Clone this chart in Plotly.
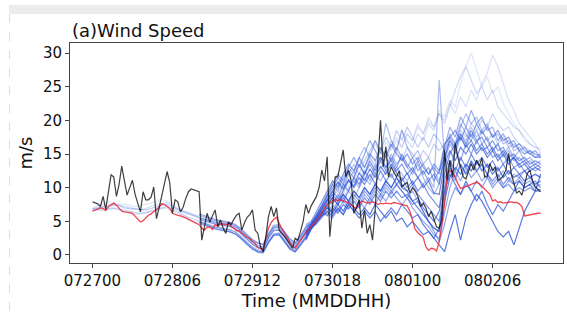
import plotly.graph_objects as go

# ---------------- data ----------------
hours = list(range(169))
tick_hours = [0, 30, 60, 90, 120, 150]
tick_labels = ["072700", "072806", "072912", "073018", "080100", "080206"]
y_ticks = [0, 5, 10, 15, 20, 25, 30]

obs = [7.9, 7.7, 7.6, 7.2, 8.7, 6.8, 9.5, 11.9, 11.6, 8.7, 10.5, 13.2, 11.0, 8.9, 10.0, 11.1, 9.0, 7.5, 6.4, 9.4,
       8.2, 8.2, 8.6, 10.1, 5.4, 7.0, 8.7, 10.5, 12.4, 10.7, 6.2, 8.2, 7.9, 6.4, 7.1, 8.4, 9.4, 9.8, 9.7, 9.5,
       9.4, 2.2, 4.0, 6.2, 4.9, 5.8, 6.7, 4.2, 5.2, 4.0, 3.2, 4.9, 4.5, 5.3, 5.9, 6.2, 3.7, 4.8, 5.6, 6.0,
       6.7, 3.7, 3.2, 1.2, 0.5, 2.7, 5.7, 7.2, 5.7, 7.0, 3.7, 3.2, 2.8, 2.2, 1.6, 1.0, 2.5, 2.2, 3.5, 5.0,
       7.5, 6.2, 7.3, 8.0, 8.7, 10.1, 12.6, 11.0, 14.6, 2.7, 7.7, 11.6, 11.6, 13.5, 15.6, 11.6, 12.6, 11.0, 6.2, 7.0,
       8.2, 4.0, 6.7, 3.2, 4.5, 2.2, 6.7, 14.1, 20.0, 13.1, 16.1, 11.6, 13.1, 12.3, 11.6, 12.5, 10.1, 10.5, 10.8, 9.2,
       10.0, 9.5, 8.7, 7.2, 7.7, 7.0, 5.7, 6.5, 5.5, 4.2, 4.0, 5.2, 15.6, 11.1, 14.1, 11.6, 16.6, 14.5, 13.1, 11.6,
       11.3, 12.5, 13.6, 12.6, 14.1, 13.2, 14.4, 11.6, 11.6, 13.6, 12.5, 13.1, 11.1, 11.3, 11.8, 12.6, 15.1, 12.1, 10.5, 9.2,
       9.5, 8.9, 10.5, 12.1, 12.6, 11.0, 10.1, 9.8, 9.4]

model = [6.5, 6.7, 6.9, 7.0, 6.9, 6.6, 7.2, 7.5, 7.7, 7.4, 7.0, 6.5, 6.4, 6.4, 6.3, 6.2, 5.8, 5.4, 4.9, 5.1,
         5.5, 5.9, 6.1, 6.4, 6.7, 7.1, 7.6, 7.5, 7.2, 6.9, 6.2, 6.0, 5.9, 5.8, 5.7, 5.5, 5.3, 5.1, 4.9, 4.6,
         4.5, 4.0, 3.7, 4.1, 4.2, 3.8, 4.5, 4.3, 4.6, 4.6, 4.5, 4.7, 4.2, 4.0, 3.6, 3.6, 3.2, 2.9, 2.6, 2.4,
         2.0, 1.7, 1.1, 0.9, 0.8, 2.5, 4.0, 4.8, 5.3, 5.6, 4.7, 3.9, 3.3, 2.6, 1.9, 1.3, 1.0, 1.6, 2.3, 2.9,
         3.3, 3.8, 4.2, 4.6, 5.1, 5.6, 6.4, 7.0, 7.5, 7.8, 8.0, 8.2, 8.1, 8.2, 8.0, 7.9, 7.8, 7.4, 7.1, 6.9,
         7.6, 8.0, 7.8, 7.7, 7.8, 7.9, 7.8, 7.5, 7.7, 7.6, 7.7, 7.7, 7.6, 7.8, 7.7, 7.6, 7.4, 7.3, 7.3, 6.5,
         5.2, 3.8, 3.3, 3.0, 2.6, 1.2, 0.7, 1.0, 0.9, 0.6, 2.0, 4.5, 7.5, 12.2, 12.5, 12.4, 11.4, 10.6, 9.9, 10.0,
         10.2, 10.3, 10.5, 10.6, 10.8, 10.6, 10.2, 9.8, 9.5, 9.0, 8.0, 8.2, 7.8, 7.9, 7.7, 7.8, 7.8, 7.9, 7.8, 7.8,
         7.6, 7.2, 5.8, 5.9, 5.9, 6.0, 6.1, 6.2, 6.2]

# ensemble members on a 2-hourly grid; each group starts at its own hour
ens_step = 2

# group A: start at hour 0 (faint members)
start_a = 0
a1 = [7.0, 7.3, 7.6, 7.9, 7.7, 7.5, 7.6, 7.4, 7.2, 7.3, 7.5, 7.8, 8.0, 8.2, 8.0, 7.6, 7.0, 6.6, 6.4, 6.0,
      5.8, 5.5, 5.3, 5.2, 5.0, 4.8, 4.6, 4.3, 3.6, 2.8, 2.2, 1.8, 1.5, 2.8, 3.9, 4.4, 3.5, 2.5, 1.9, 2.8, 4.2,
      4.8, 6.2, 7.8, 9.5, 11.0, 10.2, 12.0, 13.5, 12.5, 14.0, 13.0, 15.0, 16.5, 15.0, 16.8, 15.5, 17.0, 16.0, 18.0, 17.0,
      19.0, 18.0, 20.0, 19.0, 21.5, 20.5, 23.0, 22.0, 25.5, 28.0, 30.0, 27.5, 25.0, 26.5, 24.0, 25.0, 22.5, 21.0, 19.5, 18.5,
      17.0, 16.5, 16.0, 15.5]
a2 = [6.6, 6.7, 6.6, 6.8, 6.9, 6.7, 6.4, 6.2, 6.0, 6.1, 6.3, 6.4, 6.6, 6.9, 7.0, 6.6, 6.1, 5.7, 5.4, 5.0,
      4.8, 4.6, 4.2, 3.9, 3.8, 3.7, 3.4, 3.0, 2.3, 1.6, 0.9, 0.5, 0.4, 1.8, 2.9, 3.1, 1.9, 0.9, 0.5, 1.4, 2.5,
      4.5, 5.2, 6.4, 7.8, 9.2, 10.0, 9.0, 11.0, 12.5, 11.0, 13.0, 14.5, 13.0, 15.5, 14.0, 16.0, 17.5, 16.0, 18.0, 17.0,
      19.5, 18.0, 20.5, 19.0, 21.0, 20.0, 22.5, 21.0, 23.5, 22.0, 24.5, 23.0, 25.5, 27.0, 29.7, 28.0, 25.5, 23.0, 21.5, 19.5,
      18.5, 17.5, 16.5, 15.0]
a3 = [6.9, 7.0, 7.3, 7.4, 7.6, 7.4, 7.2, 7.1, 6.9, 6.7, 6.9, 7.2, 7.5, 7.6, 7.8, 7.3, 6.8, 6.5, 6.2, 5.9,
      5.5, 5.2, 5.0, 4.9, 4.8, 4.6, 4.5, 4.1, 3.4, 2.6, 1.9, 1.3, 1.2, 3.0, 4.2, 4.0, 3.0, 2.0, 1.5, 2.5, 3.8,
      4.6, 6.0, 7.2, 9.0, 8.0, 10.5, 9.5, 12.0, 11.0, 13.5, 12.0, 14.5, 13.5, 16.0, 14.5, 17.0, 15.5, 18.5, 17.0, 16.0,
      18.0, 17.0, 19.5, 18.5, 21.0, 19.5, 22.0, 24.5, 26.5, 28.0, 26.0, 24.0, 25.0, 23.0, 24.5, 22.0, 21.0, 20.0, 19.0, 18.5,
      17.5, 16.5, 16.0, 15.8]
a4 = [6.7, 6.8, 6.9, 6.9, 7.0, 6.8, 6.7, 6.5, 6.3, 6.2, 6.3, 6.6, 6.8, 7.0, 7.2, 6.9, 6.4, 6.0, 5.6, 5.3,
      5.0, 4.7, 4.4, 4.2, 4.1, 3.9, 3.7, 3.3, 2.6, 1.8, 1.2, 0.8, 0.6, 2.0, 3.1, 3.3, 2.3, 1.2, 0.8, 1.7, 2.8,
      4.4, 5.0, 6.2, 7.4, 8.8, 9.5, 8.5, 10.0, 11.5, 10.5, 12.5, 11.5, 13.5, 12.5, 14.5, 13.0, 15.5, 14.0, 16.0, 15.0,
      14.0, 15.5, 14.5, 16.5, 15.5, 16.5, 17.5, 16.5, 18.5, 17.5, 19.5, 18.5, 20.0, 19.0, 21.0, 19.5, 18.5, 19.0, 17.5, 16.5,
      16.0, 15.5, 15.0, 14.8]
a5 = [6.8, 7.0, 7.1, 7.2, 7.4, 7.3, 7.0, 6.9, 6.8, 6.7, 6.7, 6.9, 7.2, 7.4, 7.5, 7.2, 6.8, 6.4, 6.1, 5.8,
      5.5, 5.3, 4.9, 4.7, 4.6, 4.4, 4.2, 3.8, 3.1, 2.4, 1.6, 1.2, 1.0, 2.6, 3.7, 3.8, 2.8, 1.8, 1.2, 2.2, 3.5,
      4.2, 5.4, 6.5, 7.8, 9.0, 11.0, 10.0, 12.0, 13.5, 12.0, 14.0, 15.5, 17.0, 15.5, 17.5, 16.0, 18.5, 17.0, 19.0, 17.5,
      16.0, 17.5, 16.0, 18.0, 17.0, 15.5, 17.0, 16.0, 18.0, 17.0, 19.0, 17.5, 18.5, 17.0, 18.0, 16.5, 17.5, 16.0, 16.5, 15.5,
      15.0, 15.5, 15.0, 14.5]

# group B: start at hour 40
start_b = 40
b1 = [5.9, 5.6, 5.3, 5.1, 5.0, 4.9, 4.7, 4.3, 3.6, 2.9, 2.2, 1.7, 1.5, 3.1, 4.2, 4.3, 3.4, 2.3, 1.7, 2.7, 4.0,
      4.6, 5.8, 7.2, 8.8, 10.5, 9.5, 11.5, 13.0, 12.0, 14.5, 16.0, 14.5, 17.0, 15.0, 19.6, 17.0, 15.5, 18.6, 16.0, 14.5,
      15.5, 13.5, 14.5, 12.5, 11.0, 14.0, 17.5, 16.0, 19.0, 21.0, 19.5, 20.5, 18.5, 19.5, 17.5, 18.0, 16.5, 17.0, 15.5, 16.0,
      15.0, 15.5, 14.5, 15.0]
b2 = [4.9, 4.5, 4.2, 3.9, 3.8, 3.6, 3.4, 3.0, 2.3, 1.5, 0.9, 0.5, 0.4, 1.9, 3.0, 3.0, 2.0, 0.9, 0.5, 1.5, 2.6,
      4.2, 4.8, 5.8, 7.0, 8.0, 8.5, 7.8, 9.5, 8.5, 10.0, 11.5, 10.5, 12.0, 11.0, 12.5, 11.5, 13.0, 12.0, 11.0, 12.5,
      11.5, 10.5, 11.5, 10.0, 26.0, 14.0, 16.5, 15.0, 17.5, 16.0, 18.0, 16.5, 18.5, 17.0, 15.5, 16.5, 15.0, 16.0, 14.5, 15.5,
      14.0, 14.5, 13.5, 14.0]
b3 = [5.5, 5.3, 5.0, 4.9, 4.7, 4.6, 4.4, 4.1, 3.4, 2.6, 1.9, 1.4, 1.2, 2.8, 4.0, 4.1, 3.1, 2.0, 1.4, 2.4, 3.7,
      4.5, 5.6, 7.0, 8.2, 7.5, 9.0, 8.0, 9.5, 11.0, 10.0, 12.5, 11.0, 13.0, 14.5, 13.0, 15.0, 13.5, 14.5, 13.0, 12.0,
      13.5, 11.5, 10.0, 9.0, 10.5, 15.5, 18.0, 16.5, 19.5, 18.0, 17.0, 18.5, 16.5, 17.5, 15.5, 16.5, 14.5, 15.5, 14.0, 14.5,
      13.5, 14.0, 13.0, 13.5]
b4 = [5.0, 4.7, 4.3, 4.1, 4.0, 3.9, 3.7, 3.3, 2.6, 1.8, 1.1, 0.6, 0.5, 2.0, 3.1, 3.2, 2.2, 1.1, 0.6, 1.6, 2.8,
      4.0, 4.6, 5.5, 6.5, 7.4, 6.5, 8.0, 7.0, 8.5, 7.5, 9.0, 8.0, 9.5, 8.5, 10.0, 9.0, 10.5, 9.5, 8.5, 9.5,
      8.0, 6.5, 5.0, 4.0, 3.5, 9.0, 12.5, 11.0, 13.5, 12.0, 14.0, 12.5, 13.5, 12.0, 13.0, 11.5, 12.5, 11.0, 12.0, 11.5,
      12.5, 11.5, 12.0, 11.5]
b5 = [6.1, 5.8, 5.5, 5.3, 5.1, 5.0, 4.8, 4.4, 3.8, 3.0, 2.3, 1.8, 1.6, 3.2, 4.4, 4.5, 3.5, 2.4, 1.8, 2.9, 4.2,
      4.8, 6.0, 7.5, 9.0, 10.5, 12.0, 11.0, 13.0, 14.5, 13.0, 15.0, 17.0, 15.5, 14.0, 15.5, 14.0, 16.0, 14.5, 13.0, 14.5,
      12.5, 13.5, 12.0, 13.0, 12.0, 16.0, 19.0, 17.5, 20.5, 19.0, 21.5, 19.5, 20.5, 18.5, 19.0, 17.0, 18.0, 16.5, 17.0, 15.5,
      16.0, 15.0, 15.5, 14.5]
b6 = [4.7, 4.4, 4.1, 3.9, 3.7, 3.6, 3.4, 3.0, 2.4, 1.6, 0.9, 0.4, 0.3, 1.8, 2.9, 3.0, 2.0, 0.9, 0.4, 1.4, 2.5,
      4.0, 4.8, 5.8, 6.2, 5.5, 6.8, 6.0, 7.5, 6.5, 8.0, 7.0, 8.5, 7.5, 9.0, 8.0, 9.5, 8.5, 7.5, 8.5, 7.0,
      6.0, 5.0, 4.2, 3.0, 2.5, 6.0, 10.0, 12.5, 11.0, 13.0, 11.5, 12.5, 11.0, 12.0, 10.5, 11.5, 10.0, 11.0, 10.5, 11.5,
      10.5, 11.0, 10.0, 10.5]
b7 = [5.3, 5.0, 4.8, 4.6, 4.5, 4.4, 4.2, 3.8, 3.1, 2.3, 1.6, 1.1, 0.9, 2.5, 3.6, 3.7, 2.7, 1.6, 1.1, 2.1, 3.3,
      4.3, 5.5, 6.8, 8.0, 9.5, 8.5, 10.5, 9.5, 11.5, 10.5, 12.0, 13.5, 12.0, 14.0, 12.5, 14.5, 13.0, 15.0, 13.5, 12.5,
      14.0, 12.0, 13.0, 11.0, 12.5, 14.5, 13.0, 15.5, 14.0, 16.5, 15.0, 17.0, 15.5, 16.0, 14.5, 15.0, 13.5, 14.5, 13.0, 13.5,
      12.5, 13.0, 12.5, 13.0]

# group C: start at hour 80
start_c = 80
c1 = [2.4, 4.0, 5.0, 6.0, 7.0, 6.2, 7.5, 6.5, 8.0, 7.0, 6.0, 7.0, 6.0, 7.5, 6.5, 5.5, 6.5, 5.0, 5.5, 4.2,
      5.0, 4.0, 3.0, 3.5, 2.5, 1.5, 0.5, 3.5, 6.0, 2.2, 5.5, 7.5, 9.0, 8.0, 6.5, 5.0, 3.5, 2.7, 3.5, 1.5,
      4.0, 6.5, 8.0, 9.5, 12.0]
c2 = [3.4, 4.2, 5.2, 6.3, 7.5, 8.5, 7.5, 9.0, 8.0, 9.5, 8.5, 10.0, 9.0, 10.5, 9.5, 11.0, 10.0, 11.5, 10.0, 9.5,
      8.0, 7.0, 6.0, 5.0, 4.0, 3.5, 8.0, 11.5, 13.0, 12.0, 13.5, 12.5, 14.0, 12.5, 13.5, 12.0, 13.0, 11.5, 12.5, 11.5,
      12.0, 11.0, 11.5, 10.5, 11.0]
c3 = [2.2, 3.8, 4.8, 5.8, 6.5, 5.8, 7.0, 6.0, 7.5, 6.5, 5.5, 6.5, 5.5, 6.5, 5.0, 6.0, 7.0, 6.0, 7.5, 6.5,
      5.5, 6.0, 4.5, 3.5, 2.5, 4.0, 9.5, 12.0, 10.5, 9.0, 11.0, 9.5, 8.0, 9.5, 7.5, 6.0, 7.5, 6.5, 8.0, 9.5,
      11.0, 10.0, 10.5, 9.5, 9.8]
c4 = [3.6, 4.5, 5.6, 6.8, 8.2, 9.5, 10.8, 9.8, 11.2, 10.2, 12.2, 11.0, 12.8, 11.5, 13.2, 12.0, 13.5, 12.2, 11.0, 12.2,
      10.5, 11.5, 10.0, 11.0, 9.2, 9.0, 13.5, 15.5, 14.0, 16.0, 15.0, 16.5, 15.0, 16.0, 14.5, 15.5, 14.0, 15.0, 13.5, 14.5,
      13.0, 13.5, 12.5, 13.0, 12.5]
c5 = [3.1, 4.2, 5.3, 6.5, 5.8, 7.0, 6.2, 7.5, 6.8, 8.0, 7.0, 8.5, 7.5, 9.0, 8.0, 9.5, 8.5, 9.5, 8.5, 9.0,
      8.0, 8.5, 7.0, 6.0, 5.0, 6.5, 11.0, 14.0, 12.5, 14.5, 13.0, 15.0, 13.5, 14.5, 13.0, 14.0, 12.5, 13.5, 12.0, 13.0,
      12.0, 12.5, 11.5, 12.0, 11.5]
c6 = [3.3, 4.4, 5.6, 6.8, 8.0, 9.0, 8.0, 9.5, 11.0, 10.0, 11.5, 10.5, 12.0, 10.5, 12.5, 11.0, 12.0, 10.5, 11.5, 10.0,
      11.0, 9.5, 10.5, 9.0, 8.0, 7.0, 12.0, 15.0, 16.5, 17.5, 16.0, 17.0, 15.5, 16.5, 15.0, 16.0, 14.5, 15.5, 14.0, 14.5,
      13.5, 14.0, 13.0, 13.5, 13.0]
c7 = [2.9, 3.9, 5.0, 6.0, 7.2, 6.5, 8.0, 9.0, 8.0, 9.5, 8.5, 10.0, 9.0, 10.5, 9.5, 11.0, 10.0, 11.5, 10.5, 9.5,
      10.5, 9.0, 8.0, 7.0, 6.0, 5.0, 10.0, 13.0, 11.5, 13.5, 12.0, 14.0, 12.5, 13.5, 12.0, 11.0, 12.0, 10.5, 11.5, 10.5,
      11.0, 10.0, 10.5, 11.0, 10.0]
c8 = [4.2, 4.6, 5.9, 7.2, 8.5, 10.0, 11.5, 10.5, 12.5, 11.5, 13.5, 12.0, 14.0, 12.5, 14.5, 13.0, 14.0, 12.5, 13.5, 12.0,
      13.0, 11.5, 12.5, 11.0, 12.0, 10.5, 14.5, 17.0, 15.5, 18.0, 16.5, 18.5, 17.0, 17.5, 16.0, 17.0, 15.5, 16.0, 14.5, 15.0,
      14.0, 14.5, 13.5, 14.0, 13.5]
c9 = [3.0, 4.1, 5.2, 6.3, 7.5, 8.5, 7.5, 8.5, 7.5, 9.0, 8.0, 9.5, 8.5, 10.0, 9.0, 10.5, 9.5, 10.5, 9.5, 8.5,
      7.5, 8.0, 6.5, 5.0, 3.5, 2.0, 4.5, 8.0, 10.0, 9.0, 10.5, 9.5, 11.0, 10.0, 11.5, 10.0, 11.0, 10.0, 10.5, 9.5,
      10.0, 9.5, 10.0, 9.5, 9.5]
c10 = [4.5, 5.0, 6.5, 8.0, 9.5, 11.0, 10.0, 12.0, 13.5, 12.5, 14.5, 13.0, 15.0, 14.0, 16.0, 14.5, 16.5, 15.0, 14.0, 15.0,
       13.5, 14.5, 13.0, 12.0, 13.5, 12.5, 16.5, 17.5, 18.5, 17.0, 19.0, 17.5, 19.5, 18.0, 19.0, 17.5, 18.5, 17.0, 17.5, 16.0,
       16.5, 15.5, 15.0, 14.5, 14.5]

members = [a1, a2, a3, a4, a5, b1, b2, b3, b4, b5, b6, b7, c1, c2, c3, c4, c5, c6, c7, c8, c9, c10]
member_start = [start_a] * 5 + [start_b] * 7 + [start_c] * 10
member_alpha = [0.15, 0.18, 0.22, 0.26, 0.3,
                0.38, 0.4, 0.42, 0.45, 0.48, 0.5, 0.52,
                0.8, 0.75, 0.72, 0.7, 0.66, 0.63, 0.6, 0.58, 0.56, 0.55]

# ---------------- figure ----------------
FONT = "DejaVu Sans"
fig = go.Figure()

draw_order = sorted(range(len(members)), key=lambda i: member_alpha[i])
for i in draw_order:
    vals = members[i]
    xs = list(range(member_start[i], 169, ens_step))
    n = min(len(vals), len(xs))
    fig.add_trace(go.Scatter(x=xs[:n], y=vals[:n], mode="lines",
                             line=dict(color=f"rgba(45,85,215,{member_alpha[i]})", width=1.2),
                             showlegend=False, hoverinfo="skip"))

fig.add_trace(go.Scatter(x=hours, y=model, mode="lines",
                         line=dict(color="rgba(240,40,50,0.85)", width=1.3), showlegend=False))
fig.add_trace(go.Scatter(x=hours, y=obs, mode="lines",
                         line=dict(color="rgba(15,15,15,0.8)", width=1.2), showlegend=False))

axis_common = dict(showline=True, mirror=True, linecolor="#444", linewidth=1,
                   ticks="outside", ticklen=4, tickcolor="#444", tickwidth=1,
                   showgrid=False, zeroline=False,
                   tickfont=dict(family=FONT, size=15, color="#111"))

fig.update_xaxes(range=[-8.4, 176.4], tickmode="array", tickvals=tick_hours, ticktext=tick_labels,
                 title=dict(text="Time (MMDDHH)", font=dict(family=FONT, size=18, color="#111"), standoff=2),
                 **axis_common)
fig.update_yaxes(range=[-1.19, 31.49], tickmode="array", tickvals=y_ticks,
                 title=dict(text="m/s", font=dict(family=FONT, size=18, color="#111"), standoff=5),
                 **axis_common)

fig.update_layout(
    width=567, height=320,
    margin=dict(l=70, r=4, t=43, b=57),
    paper_bgcolor="white", plot_bgcolor="white",
    font=dict(family=FONT),
    annotations=[dict(text="(a)Wind Speed", x=0, y=1.0, xref="paper", yref="paper",
                      xanchor="left", yanchor="bottom", showarrow=False,
                      font=dict(family=FONT, size=18, color="#111"))],
    shapes=[
        dict(type="rect", xref="paper", yref="paper", x0=-0.1237, x1=1.01, y0=1.1318, y1=1.1727,
             fillcolor="#ececec", line=dict(width=0), layer="below"),
        dict(type="line", xref="paper", yref="paper", x0=-0.1227, x1=-0.1227, y0=1.1318, y1=-0.27,
             line=dict(color="#dddddd", width=1, dash="dash")),
    ],
)

fig.write_html("out.html")
